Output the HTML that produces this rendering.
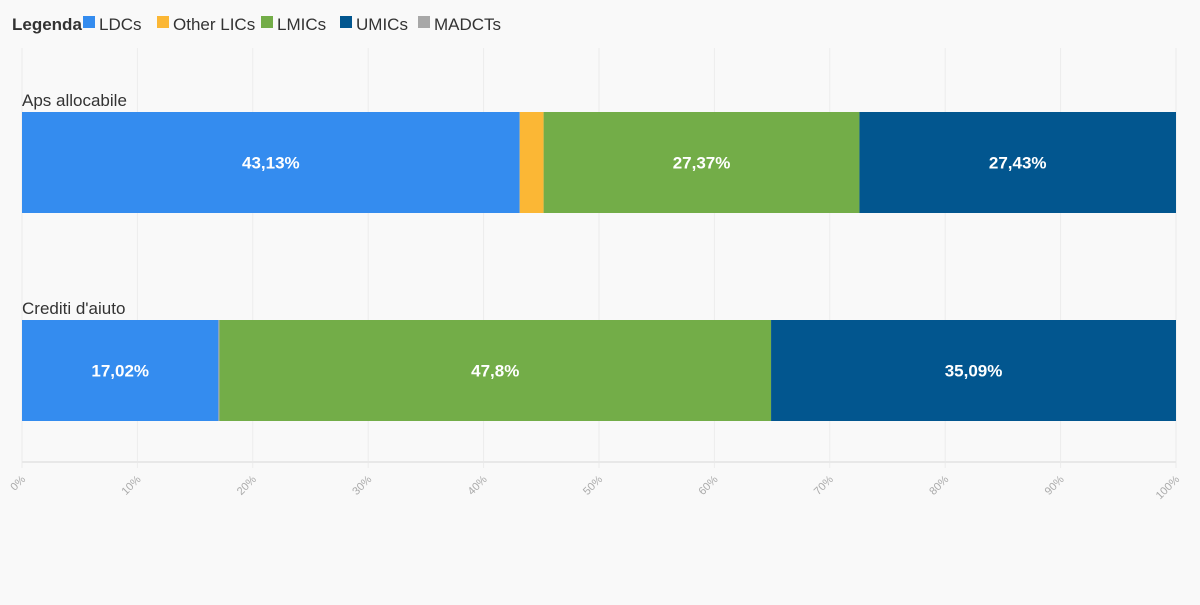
<!DOCTYPE html>
<html><head><meta charset="utf-8"><style>
body{margin:0;background:#f9f9f9;}
svg text{font-family:"Liberation Sans",sans-serif;}
</style></head><body>
<svg id="chart" width="1200" height="600" xmlns="http://www.w3.org/2000/svg">
<rect width="1200" height="600" fill="#f9f9f9"/>
<g id="legend"></g>
<g id="grid"></g>
<g id="bars"></g>
<g id="axis"></g>
</svg>
<script>
const categories = ["Aps allocabile", "Crediti d'aiuto"];
const seriesNames = ["LDCs", "Other LICs", "LMICs", "UMICs", "MADCTs"];
const seriesColors = ["#348cef", "#fbb735", "#73ad48", "#02568f", "#a8a8a8"];
const ldcs = [43.13, 17.02];
const otherLics = [2.07, 0];
const lmics = [27.37, 47.8];
const umics = [27.43, 35.09];
const madcts = [0, 0.09];
const valueLabels = [["43,13%", "", "27,37%", "27,43%", ""], ["17,02%", "", "47,8%", "35,09%", ""]];
const tickValues = [0,10,20,30,40,50,60,70,80,90,100];
const tickLabels = ["0%","10%","20%","30%","40%","50%","60%","70%","80%","90%","100%"];

const NS = "http://www.w3.org/2000/svg";
const x0 = 22, x1 = 1176;
const xs = v => x0 + (x1 - x0) * v / 100;
const rowTop = [112, 320], barH = 101;
function mk(tag, attrs, parent){const e=document.createElementNS(NS,tag);for(const k in attrs)e.setAttribute(k,attrs[k]);parent.appendChild(e);return e;}

const grid = document.getElementById('grid');
const axis = document.getElementById('axis');
tickValues.forEach((t,i)=>{
  const gl = mk('line',{x1:xs(t),x2:xs(t),y1:48,y2:468,stroke:'#ececec','stroke-width':1},grid);
  
  
  const tx = mk('text',{transform:`translate(${xs(t)+4},${480}) rotate(-45)`,'text-anchor':'end','font-size':11,fill:'#aaa'},axis);
  tx.textContent = tickLabels[i];
  
  
});
const al = mk('line',{x1:x0,x2:x1,y1:462,y2:462,stroke:'#e8e8e8','stroke-width':2},axis);



const bars = document.getElementById('bars');
const series = [ldcs, otherLics, lmics, umics, madcts];
// ordering in the second row: gray MADCTs sliver appears between LDCs and LMICs
const order = [[0,1,2,3,4],[0,4,1,2,3]];
categories.forEach((c,r)=>{
  const lab = mk('text',{x:22,y:rowTop[r]-6,'font-size':17,fill:'#333'},bars);
  lab.textContent = c;
  
  
  let acc = 0;
  order[r].forEach(s=>{
    const v = series[s][r];
    if(v<=0) return;
    const rc = mk('rect',{x:xs(acc),y:rowTop[r],width:xs(acc+v)-xs(acc),height:barH,fill:seriesColors[s]},bars);
    
    
    const lbl = valueLabels[r][s];
    if(lbl){
      const t = mk('text',{x:(xs(acc)+xs(acc+v))/2,y:rowTop[r]+barH/2+6,'text-anchor':'middle','font-size':17,'font-weight':'bold',fill:'#fff'},bars);
      t.textContent = lbl;
      
      
    }
    acc += v;
  });
});

const legend = document.getElementById('legend');
const lt = mk('text',{x:12,y:30,'font-size':17,'font-weight':'bold',fill:'#333'},legend);
lt.textContent = 'Legenda';


const legX = [83, 157, 261, 340, 418];
seriesNames.forEach((n,i)=>{
  const sw = mk('rect',{x:legX[i],y:16,width:12,height:12,fill:seriesColors[i]},legend);
  
  
  const t = mk('text',{x:legX[i]+16,y:30,'font-size':17,fill:'#333'},legend);
  t.textContent = n;
  
  
});
</script>
</body></html>
